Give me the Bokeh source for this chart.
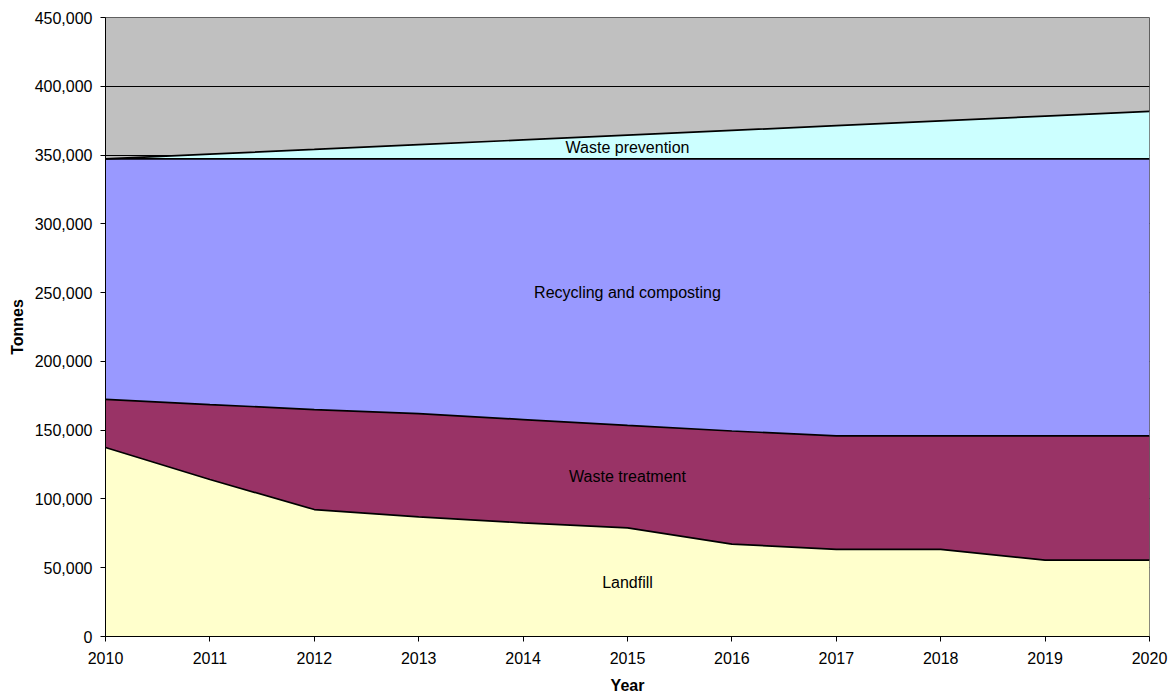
import numpy as np
from bokeh.plotting import figure
from bokeh.models import NumeralTickFormatter, FixedTicker, ColumnDataSource, Range1d
from bokeh.embed import file_html
from bokeh.resources import INLINE
from bokeh.core.properties import value

years = [2010, 2011, 2012, 2013, 2014, 2015, 2016, 2017, 2018, 2019, 2020]
landfill = [137400, 114100, 92300, 87000, 82600, 79000, 67200, 63300, 63300, 55500, 55500]
waste_treatment = [35000, 54500, 72700, 75000, 75100, 74500, 82200, 82500, 82500, 90300, 90300]
recycling = [174800, 178600, 182200, 185200, 189500, 193700, 197800, 201400, 201400, 201400, 201400]
prevention = [0, 3500, 6900, 10400, 13800, 17300, 20700, 24200, 27600, 31100, 34500]

series_names = ["Landfill", "Waste treatment", "Recycling and composting", "Waste prevention"]
series_colors = ["#FFFFCC", "#993366", "#9999FF", "#CCFFFF"]
y_ticks = [0, 50000, 100000, 150000, 200000, 250000, 300000, 350000, 400000, 450000]
label_year = 2015

src = ColumnDataSource(dict(year=years, s0=landfill, s1=waste_treatment, s2=recycling, s3=prevention))

FONT = "Liberation Sans"

p = figure(width=1172, height=696, output_backend="svg", toolbar_location=None,
           x_range=Range1d(years[0], years[-1]), y_range=Range1d(y_ticks[0], y_ticks[-1]),
           min_border_left=105, min_border_right=23, min_border_top=17, min_border_bottom=60)

p.background_fill_color = "#C0C0C0"
p.border_fill_color = "white"
p.outline_line_color = "#606060"
p.outline_line_width = 1

p.xgrid.visible = False
p.ygrid.grid_line_color = "black"
p.ygrid.grid_line_width = 1
p.ygrid.ticker = FixedTicker(ticks=y_ticks)

p.varea_stack(stackers=["s0", "s1", "s2", "s3"], x="year", color=series_colors, source=src)

stacks = np.cumsum(np.array([landfill, waste_treatment, recycling, prevention], dtype=float), axis=0)
for row in stacks:
    p.line(years, row, line_color="black", line_width=1.7)

# labels at middle of each band at 2015
idx = years.index(label_year)
bottoms = np.concatenate([[0.0], stacks[:-1, idx]])
mids = (bottoms + stacks[:, idx]) / 2.0
p.text(x=[label_year] * len(series_names), y=list(mids), text=series_names,
       text_align="center", text_baseline="middle",
       text_font=value(FONT), text_font_size="16px", text_color="black")

for ax in (p.xaxis[0], p.yaxis[0]):
    ax.axis_line_color = "black"
    ax.axis_line_width = 1
    ax.major_tick_line_color = "black"
    ax.major_tick_in = 0
    ax.major_tick_out = 5
    ax.minor_tick_line_color = None
    ax.major_label_text_font = FONT
    ax.major_label_text_font_size = "16px"
    ax.major_label_text_color = "black"
    ax.axis_label_text_font = FONT
    ax.axis_label_text_font_size = "16px"
    ax.axis_label_text_font_style = "bold"
    ax.axis_label_text_color = "black"

p.xaxis.ticker = FixedTicker(ticks=years)
p.xaxis.axis_label = "Year"
p.xaxis.major_label_standoff = 10
p.xaxis.axis_label_standoff = 10

p.yaxis.ticker = FixedTicker(ticks=y_ticks)
p.yaxis.formatter = NumeralTickFormatter(format="0,0")
p.yaxis.axis_label = "Tonnes"
p.yaxis.major_label_standoff = 8
p.yaxis.axis_label_standoff = 6

open("out.html", "w").write(file_html(p, INLINE))
